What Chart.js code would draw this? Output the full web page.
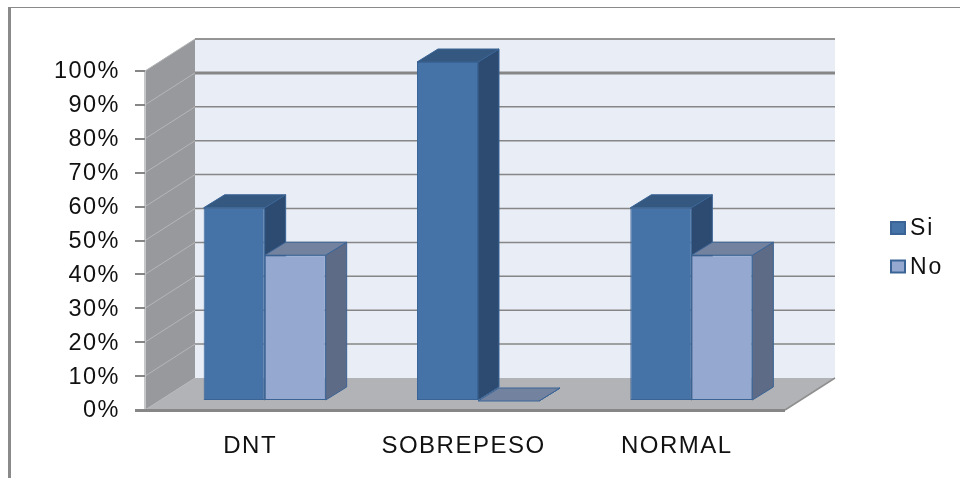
<!DOCTYPE html>
<html>
<head>
<meta charset="utf-8">
<style>html,body{margin:0;padding:0;background:#fff}canvas{display:block}</style>
<script src="https://cdn.jsdelivr.net/npm/chart.js@4/dist/chart.umd.js"></script>
</head>
<body>
<canvas id="c" width="960" height="478"></canvas>
<script>
const categories = ["DNT", "SOBREPESO", "NORMAL"];
const siValues = [57, 100, 57];
const noValues = [43, 0, 43];
const seriesNames = ["Si", "No"];

const FONT = '"Liberation Sans", Arial, sans-serif';
const GRID = '#868686';
const depthAll = {x: 50, y: -32};
const barShift = {x: 13, y: -9};
const barDepth = {x: 21, y: -13};
const looks = [
  {front: '#4572a7', edge: '#3a6496', top: '#34587f', side: '#2d4a70'},
  {front: '#95a9d0', edge: '#3a6496', top: '#73829f', side: '#5e6b86'}
];

function poly(ctx, pts, fill, stroke, lw) {
  ctx.beginPath();
  pts.forEach((p, i) => i ? ctx.lineTo(p[0], p[1]) : ctx.moveTo(p[0], p[1]));
  ctx.closePath();
  if (fill) { ctx.fillStyle = fill; ctx.fill(); }
  if (stroke) { ctx.strokeStyle = stroke; ctx.lineWidth = lw || 1; ctx.stroke(); }
}
function line(ctx, x1, y1, x2, y2, color, lw) {
  ctx.beginPath(); ctx.moveTo(x1, y1); ctx.lineTo(x2, y2);
  ctx.strokeStyle = color; ctx.lineWidth = lw; ctx.stroke();
}

const scene = {
  id: 'scene',
  beforeUpdate(chart) { chart.ctx.letterSpacing = '1.5px'; },
  beforeDraw(chart) {
    const ctx = chart.ctx, a = chart.chartArea, ys = chart.scales.y;
    const dx = depthAll.x, dy = depthAll.y;
    const y0 = ys.getPixelForValue(0), y100 = ys.getPixelForValue(100);
    ctx.save();
    ctx.fillStyle = '#fff'; ctx.fillRect(0, 0, 960, 478);
    // outer frame
    line(ctx, 8, 7.5, 960, 7.5, '#8a8a8a', 1);
    line(ctx, 9.5, 7, 9.5, 478, '#8a8a8a', 3);
    // back wall
    poly(ctx, [[a.left + dx, y100 + dy], [a.right + dx, y100 + dy], [a.right + dx, y0 + dy], [a.left + dx, y0 + dy]], '#e9edf6');
    // left wall
    poly(ctx, [[a.left, y100], [a.left + dx, y100 + dy], [a.left + dx, y0 + dy], [a.left, y0]], '#97999c');
    // floor
    poly(ctx, [[a.left, y0], [a.right, y0], [a.right + dx, y0 + dy], [a.left + dx, y0 + dy]], '#b1b3b6');
    // grid lines
    ys.ticks.forEach(t => {
      const y = ys.getPixelForValue(t.value);
      line(ctx, a.left, y, a.left + dx, y + dy, '#b4b6b8', 1);
      if (t.value > 0) {
        line(ctx, a.left + dx, y + dy, a.right + dx, y + dy, GRID, t.value === 90 ? 3 : 1.5);
      }
    });
    line(ctx, a.left + dx, y100 + dy, a.right + dx, y100 + dy, GRID, 1);
    line(ctx, a.left, y100, a.left, y0, '#c4c6c8', 2);
    line(ctx, a.right, y0, a.right + dx, y0 + dy, '#8f8f8f', 1.5);
    ctx.restore();
  },
  beforeDatasetsDraw(chart) {
    const ctx = chart.ctx, d = barDepth;
    ctx.save();
    ctx.translate(barShift.x, barShift.y);
    categories.forEach((_, i) => {
      chart.data.datasets.forEach((ds, k) => {
        const el = chart.getDatasetMeta(k).data[i];
        const look = looks[k];
        const l = el.x - el.width / 2, r = el.x + el.width / 2, t = el.y, b = el.base;
        poly(ctx, [[r, t], [r + d.x, t + d.y], [r + d.x, b + d.y], [r, b]], look.side, look.edge, 1);
        poly(ctx, [[l, t], [l + d.x, t + d.y], [r + d.x, t + d.y], [r, t]], look.top, look.edge, 1);
      });
    });
  },
  afterDatasetsDraw(chart) {
    const ctx = chart.ctx;
    ctx.restore();
    const a = chart.chartArea, y0 = chart.scales.y.getPixelForValue(0);
    line(ctx, 135, y0 + 0.5, a.right, y0 + 0.5, GRID, 3);
    // legend
    ctx.save();
    ctx.font = '23px ' + FONT;
    ctx.letterSpacing = '2px';
    ctx.textBaseline = 'middle';
    chart.data.datasets.forEach((ds, k) => {
      const y = 228 + k * 38.5;
      ctx.fillStyle = looks[k].front;
      ctx.strokeStyle = looks[k].edge;
      ctx.lineWidth = 2;
      ctx.fillRect(891, y - 6, 14, 12);
      ctx.strokeRect(891, y - 6, 14, 12);
      ctx.fillStyle = '#111';
      ctx.fillText(ds.label, 910, y + 1);
    });
    ctx.restore();
  }
};

new Chart(document.getElementById('c'), {
  type: 'bar',
  data: {
    labels: categories,
    datasets: [
      {label: seriesNames[0], data: siValues, backgroundColor: looks[0].front, borderColor: looks[0].edge, borderWidth: 1, borderSkipped: false},
      {label: seriesNames[1], data: noValues, backgroundColor: looks[1].front, borderColor: looks[1].edge, borderWidth: 1, borderSkipped: false}
    ]
  },
  options: {
    responsive: false,
    animation: false,
    clip: false,
    layout: {padding: {left: 0, top: 71, right: 175, bottom: 0}},
    datasets: {bar: {barPercentage: 1, categoryPercentage: 0.572}},
    plugins: {legend: {display: false}, tooltip: {enabled: false}},
    scales: {
      x: {
        afterFit(s) { s.height = 68; },
        grid: {display: false},
        border: {display: false},
        ticks: {color: '#111', font: {family: FONT, size: 24}, padding: 14, labelOffset: -1.5, maxRotation: 0}
      },
      y: {
        min: 0, max: 100,
        afterFit(s) { s.width = 145; },
        grid: {drawOnChartArea: false, color: GRID, lineWidth: 2, tickLength: 10},
        border: {display: false},
        ticks: {stepSize: 10, color: '#111', font: {family: FONT, size: 23.5}, padding: 15, labelOffset: 1, callback: v => v + '%'}
      }
    }
  },
  plugins: [scene]
});
</script>
</body>
</html>
